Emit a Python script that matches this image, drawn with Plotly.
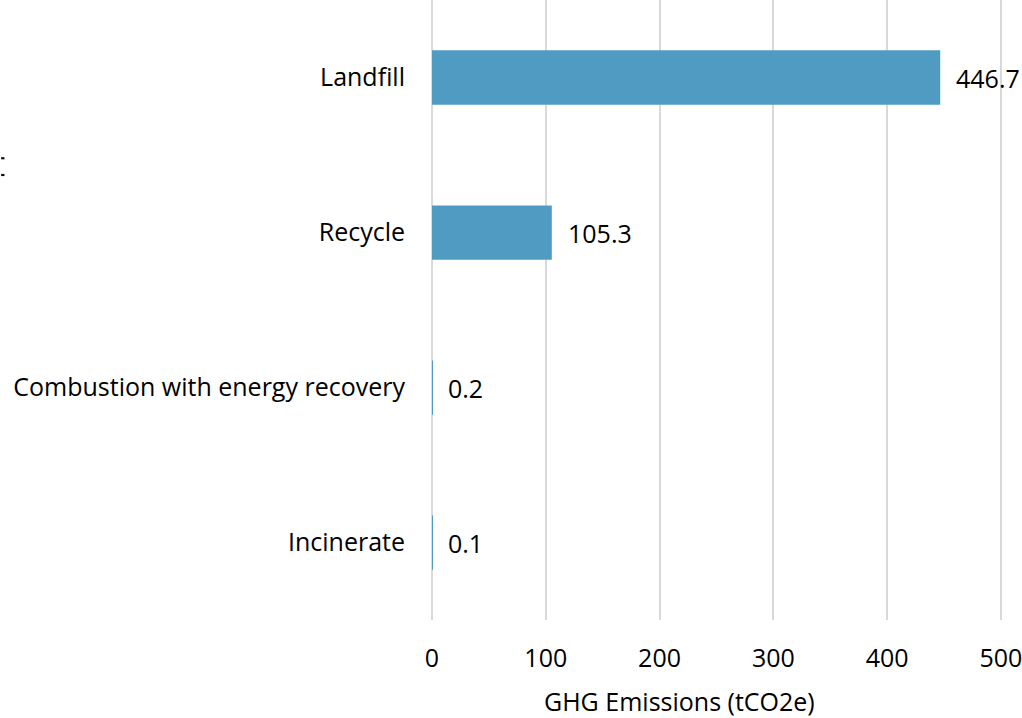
import plotly.graph_objects as go

# Waste-management pathways and their emissions (tCO2e)
categories = ["Incinerate", "Combustion with energy recovery", "Recycle", "Landfill"]
emissions = [0.1, 0.2, 105.3, 446.7]
x_ticks = [0, 100, 200, 300, 400, 500]

FONT = "Open Sans"
FS = 25
BAR_COLOR = "#4f9bc2"
GRID_COLOR = "#d9d9d9"

fig = go.Figure(
    go.Bar(
        x=emissions,
        y=categories,
        orientation="h",
        marker=dict(color=BAR_COLOR, line=dict(width=0)),
        width=0.35,
        hoverinfo="skip",
    )
)

# value labels just to the right of each bar
for cat, val in zip(categories, emissions):
    fig.add_annotation(
        x=val, y=cat, xref="x", yref="y",
        text=f"{val:.1f}", showarrow=False,
        xanchor="left", xshift=14,
        font=dict(family=FONT, size=FS, color="#000000"),
    )

# x-axis title, set slightly left of the plot centre
fig.add_annotation(
    x=0.434, y=-0.131, xref="paper", yref="paper",
    text="GHG Emissions (tCO2e)", showarrow=False,
    xanchor="center", yanchor="middle",
    font=dict(family=FONT, size=FS, color="#000000"),
)

# fragment of a neighbouring element at the left edge
for y0 in (0.743, 0.716):
    fig.add_shape(type="rect", xref="paper", yref="paper",
                  x0=-0.756, x1=-0.750, y0=y0, y1=y0 + 0.0035,
                  fillcolor="#111111", line=dict(width=0))

fig.update_layout(
    width=1022, height=718,
    margin=dict(l=432, r=18, t=0, b=98),
    paper_bgcolor="white", plot_bgcolor="white",
    showlegend=False,
    font=dict(family=FONT, size=FS, color="#000000"),
    xaxis=dict(
        range=[0, 501], tickvals=x_ticks, ticktext=[str(v) for v in x_ticks],
        showgrid=True, gridcolor=GRID_COLOR, gridwidth=2,
        zeroline=True, zerolinecolor=GRID_COLOR, zerolinewidth=2,
        showline=False, ticks="", ticklabelstandoff=21,
        ticklabeloverflow="allow",
        tickfont=dict(family=FONT, size=FS),
        fixedrange=True,
    ),
    yaxis=dict(
        range=[-0.5, 3.5], showgrid=False, zeroline=False, showline=False,
        ticks="", ticklabelstandoff=26,
        tickfont=dict(family=FONT, size=FS),
        fixedrange=True,
    ),
)

fig.write_html("out.html")
